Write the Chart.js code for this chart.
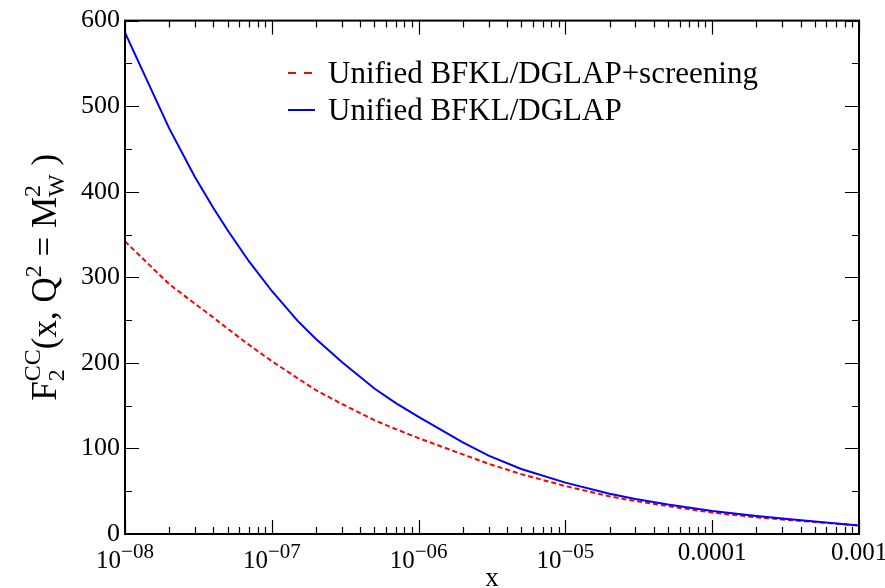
<!DOCTYPE html>
<html>
<head>
<meta charset="utf-8">
<script src="https://cdn.jsdelivr.net/npm/chart.js@4.4.1/dist/chart.umd.min.js"></script>
<style>
  body { margin: 0; background: #fff; }
  canvas { display: block; }
</style>
</head>
<body>
<canvas id="f2Chart" width="885" height="588"></canvas>
<script>
// data (x on log axis)
var xValues = [1e-8, 2e-8, 3e-8, 4e-8, 5e-8, 7e-8, 1e-7, 1.5e-7, 2e-7, 3e-7, 5e-7, 7e-7,
               1e-6, 2e-6, 3e-6, 5e-6, 1e-5, 2e-5, 3e-5, 5e-5,
               1e-4, 2e-4, 3e-4, 5e-4, 1e-3];
var screeningValues = [342, 292, 269, 253, 240, 221, 202, 182, 168, 152, 133, 122.5,
                       112, 93, 82, 70, 56, 44, 38.5, 32.5,
                       25, 19.5, 17, 14, 10];
var unifiedValues = [586, 474, 417, 381, 355, 318.5, 284, 249, 228, 201, 170, 153,
                     137, 107, 91.5, 76, 60, 47, 41, 34.5,
                     27, 21, 18, 14.5, 10];
var seriesLabels = ["Unified BFKL/DGLAP+screening", "Unified BFKL/DGLAP"];

var xTickValues = [1e-8, 1e-7, 1e-6, 1e-5, 1e-4, 1e-3];
var xTickBase = ["10", "10", "10", "10", "0.0001", "0.001"];
var xTickExp = ["\u221208", "\u221207", "\u221206", "\u221205", "", ""];
var yTickLabels = ["0", "100", "200", "300", "400", "500", "600"];

var SERIF = "'Liberation Serif', 'DejaVu Serif', serif";

function toPoints(ys)
{
    return xValues.map(function(x, i) { return { x: x, y: ys[i] }; });
}

// frame, inward ticks, x labels, axis titles and legend
var xmgraceLook = {
    id: "xmgraceLook",
    afterDraw: function(chart) {
        var ctx = chart.ctx;
        var a = chart.chartArea;
        var xs = chart.scales.x;
        var ys = chart.scales.y;
        ctx.save();
        ctx.strokeStyle = "#000";
        ctx.fillStyle = "#000";

        // ticks
        ctx.lineWidth = 1.2;
        ctx.beginPath();
        for (var d = 0; d < xTickValues.length; d++) {
            for (var k = 1; k <= 9; k++) {
                if (d == xTickValues.length - 1 && k > 1) break;
                var px = Math.round(xs.getPixelForValue(xTickValues[d] * k)) + 0.5;
                var len = (k == 1) ? 14 : 7;
                ctx.moveTo(px, a.bottom); ctx.lineTo(px, a.bottom - len);
                ctx.moveTo(px, a.top); ctx.lineTo(px, a.top + len);
            }
        }
        ys.ticks.forEach(function(t) {
            var py = Math.round(ys.getPixelForValue(t.value)) + 0.5;
            var len = (t.value % 100 == 0) ? 14 : 7;
            ctx.moveTo(a.left, py); ctx.lineTo(a.left + len, py);
            ctx.moveTo(a.right, py); ctx.lineTo(a.right - len, py);
        });
        ctx.stroke();

        // frame
        ctx.lineWidth = 2;
        ctx.strokeRect(a.left, a.top, a.right - a.left, a.bottom - a.top);

        // x tick labels
        ctx.textBaseline = "alphabetic";
        ctx.textAlign = "left";
        for (var i = 0; i < xTickValues.length; i++) {
            var cx = xs.getPixelForValue(xTickValues[i]);
            ctx.font = "25px " + SERIF;
            var wb = ctx.measureText(xTickBase[i]).width;
            ctx.font = "21px " + SERIF;
            var we = xTickExp[i] ? ctx.measureText(xTickExp[i]).width : 0;
            var x0 = cx - (wb + we) / 2;
            ctx.font = "25px " + SERIF;
            if (xTickExp[i]) {
                ctx.fillText(xTickBase[i], x0, 568);
                ctx.font = "21px " + SERIF;
                ctx.fillText(xTickExp[i], x0 + wb, 558);
            } else {
                ctx.fillText(xTickBase[i], x0, 560);
            }
        }

        // x title
        ctx.font = "27px " + SERIF;
        ctx.textAlign = "center";
        ctx.fillText("x", (a.left + a.right) / 2, 586);

        // y title, rotated, with sub/superscripts
        var parts = [
            { t: "F", f: 35, dy: 0 },
            { t: "2", f: 24, dy: 8, stackWith: "CC", sdy: -16 },
            { t: "(x, Q", f: 35, dy: 0 },
            { t: "2", f: 24, dy: -15 },
            { t: " = M", f: 35, dy: 0 },
            { t: "W", f: 24, dy: 8, stackWith: "2", sdy: -16 },
            { t: " )", f: 35, dy: 0 }
        ];
        var total = 0;
        parts.forEach(function(p) {
            ctx.font = p.f + "px " + SERIF;
            var w = ctx.measureText(p.t).width;
            if (p.stackWith) w = Math.max(w, ctx.measureText(p.stackWith).width);
            p.w = w;
            total += w;
        });
        ctx.translate(56, (a.top + a.bottom) / 2);
        ctx.rotate(-Math.PI / 2);
        ctx.textAlign = "left";
        var tx = -total / 2;
        parts.forEach(function(p) {
            ctx.font = p.f + "px " + SERIF;
            ctx.fillText(p.t, tx, p.dy);
            if (p.stackWith) ctx.fillText(p.stackWith, tx, p.sdy);
            tx += p.w;
        });
        ctx.setTransform(1, 0, 0, 1, 0, 0);

        // legend
        ctx.font = "31px " + SERIF;
        ctx.textAlign = "left";
        chart.data.datasets.forEach(function(ds, i) {
            var base = 83 + i * 37;
            var mid = base - 10;
            ctx.strokeStyle = ds.borderColor;
            ctx.lineWidth = 2;
            ctx.setLineDash(ds.borderDash && ds.borderDash.length ? [8, 8] : []);
            ctx.beginPath();
            ctx.moveTo(288, mid); ctx.lineTo(315, mid);
            ctx.stroke();
            ctx.setLineDash([]);
            ctx.fillStyle = "#000";
            ctx.fillText(ds.label, 328, base);
        });
        ctx.restore();
    }
};

new Chart(document.getElementById("f2Chart"), {
    type: "line",
    data: {
        datasets: [
            {
                label: seriesLabels[0],
                data: toPoints(screeningValues),
                borderColor: "#ff0000",
                borderWidth: 2,
                borderDash: [5, 3],
                pointRadius: 0,
                tension: 0,
                fill: false,
                order: 2
            },
            {
                label: seriesLabels[1],
                data: toPoints(unifiedValues),
                borderColor: "#0000ff",
                borderWidth: 2,
                pointRadius: 0,
                tension: 0,
                fill: false,
                order: 1
            }
        ]
    },
    options: {
        responsive: false,
        animation: false,
        layout: { padding: { top: 20, right: 26, left: 0, bottom: 0 } },
        plugins: { legend: { display: false }, tooltip: { enabled: false } },
        scales: {
            x: {
                type: "logarithmic",
                min: 1e-8,
                max: 1e-3,
                grid: { display: false },
                border: { display: false },
                ticks: { display: false },
                afterFit: function(s) { s.height = 54; }
            },
            y: {
                min: 0,
                max: 600,
                grid: { display: false, drawTicks: false },
                border: { display: false },
                ticks: {
                    stepSize: 50,
                    autoSkip: false,
                    padding: 5,
                    color: "#000",
                    font: { family: SERIF, size: 26 },
                    callback: function(v) {
                        return (v % 100 == 0) ? yTickLabels[v / 100] : "";
                    }
                },
                afterFit: function(s) { s.width = 125; }
            }
        }
    },
    plugins: [xmgraceLook]
});
</script>
</body>
</html>
